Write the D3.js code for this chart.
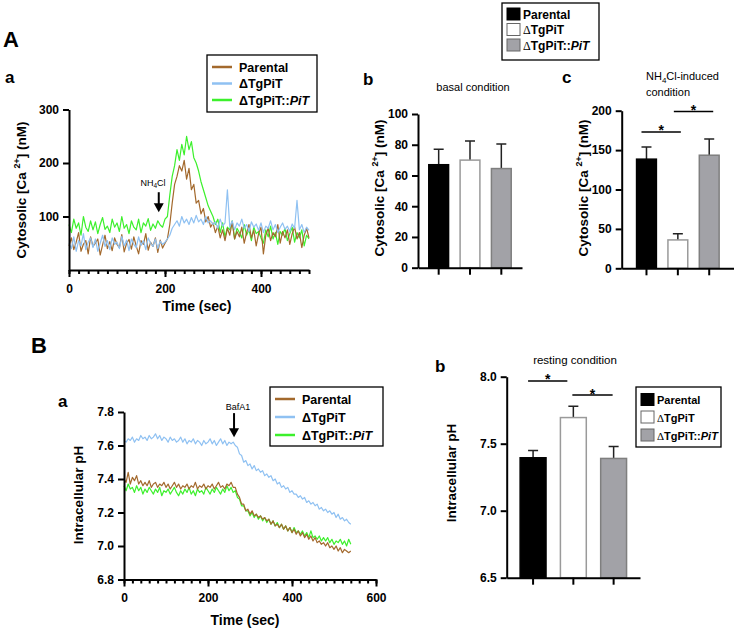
<!DOCTYPE html>
<html>
<head>
<meta charset="utf-8">
<script src="https://cdnjs.cloudflare.com/ajax/libs/d3/7.8.5/d3.min.js"></script>
<style>
body { margin: 0; background: #fff; }
svg { font-family: "Liberation Sans", Arial, sans-serif; }
.axis path, .axis line { stroke: #000; stroke-width: 2; }
.axis text { font-size: 12px; font-weight: bold; fill: #000; }
</style>
</head>
<body>
<div class="container"></div>
<script>
// ---- data ----
const groups = ["Parental", "ΔTgPiT", "ΔTgPiT::PiT"];

// A a: cytosolic Ca2+ traces, one sample every 5 s from 0 to 500 s
const caTime = d3.range(0, 501, 5);
const caParental = [
    45,60,38,52,70,35,48,55,30,62, 44,50,58,28,47,65,40,53,36,60,
    48,42,66,34,50,57,39,62,45,30, 55,48,68,37,52,44,60,33,56,41, 50,
    58,85,125,160,175,195,185,205,170,190, 150,160,125,130,105,115,90,100,80,88,
    70,82,60,75,55,78,65,90,58,72, 62,80,50,70,85,60,74,45,68,80,
    30,65,78,55,70,62,85,50,72,60, 75,48,68,80,58,70,42,65,78,60
];
const caKO = [
    50,40,62,35,55,45,68,38,52,60, 42,58,35,50,65,44,55,38,60,48,
    52,40,63,45,56,36,58,48,42,62, 46,55,38,60,50,44,58,40,54,48, 52,
    58,65,78,85,92,82,100,88,95,85, 98,88,102,90,95,85,100,88,92,85,
    90,78,95,82,88,150,80,92,75,88, 82,95,78,85,72,90,80,86,74,88,
    70,82,78,92,75,85,70,80,88,76, 82,72,86,78,130,75,85,70,80,74
];
const caComp = [
    85,70,95,78,88,65,100,80,72,92, 75,90,68,85,98,76,82,70,95,80,
    88,72,100,78,85,68,92,80,75,95, 70,88,82,96,74,86,78,92,84,80, 95,
    100,140,175,195,225,205,235,215,250,225, 240,210,200,185,165,150,135,120,110,100,
    85,95,70,88,62,80,75,92,58,78, 70,60,85,65,75,55,80,68,72,60,
    50,75,62,82,58,70,48,72,65,78, 55,68,80,52,70,60,75,45,65,58
];

// B a: intracellular pH traces, one sample every 5 s from 0 to 540 s
const phTime = d3.range(0, 541, 5);
const phParental = [
    7.40,7.38,7.44,7.37,7.41,7.39,7.42,7.37,7.39,7.36, 7.38,7.36,7.39,7.35,7.37,7.38,7.35,7.37,7.36,7.38,
    7.35,7.37,7.34,7.36,7.38,7.35,7.37,7.34,7.36,7.35, 7.37,7.34,7.36,7.35,7.38,7.34,7.36,7.35,7.37,7.34,
    7.36,7.35,7.37,7.34,7.36,7.38,7.35,7.36,7.34,7.37, 7.36,7.38,7.35,
    7.35,7.31,7.29,7.25,7.25,7.21,7.22,7.19,7.21,7.18, 7.19,7.17,7.18,7.16,7.17,7.15,7.16,7.13,7.15,7.12,
    7.13,7.11,7.13,7.10,7.12,7.09,7.11,7.08,7.10,7.07, 7.09,7.06,7.08,7.05,7.07,7.04,7.06,7.03,7.05,7.02,
    7.03,7.01,7.02,7.00,7.02,6.99,7.00,6.98,7.00,6.97, 6.99,6.96,6.98,6.97,6.96,6.97
];
const phKO = [
    7.63,7.62,7.64,7.63,7.65,7.62,7.64,7.63,7.66,7.64, 7.65,7.63,7.66,7.64,7.65,7.67,7.64,7.66,7.63,7.65,
    7.64,7.62,7.65,7.63,7.64,7.62,7.63,7.65,7.62,7.64, 7.61,7.63,7.62,7.64,7.61,7.63,7.62,7.60,7.63,7.61,
    7.62,7.64,7.61,7.63,7.60,7.62,7.64,7.61,7.63,7.60, 7.62,7.61,7.62,
    7.60,7.59,7.55,7.54,7.50,7.51,7.48,7.49,7.46,7.48, 7.45,7.46,7.44,7.45,7.42,7.43,7.41,7.42,7.39,7.40,
    7.37,7.38,7.35,7.36,7.34,7.35,7.32,7.33,7.31,7.31, 7.29,7.30,7.28,7.29,7.26,7.27,7.25,7.26,7.24,7.25,
    7.22,7.23,7.21,7.22,7.20,7.21,7.19,7.20,7.17,7.19, 7.16,7.17,7.15,7.16,7.14,7.13
];
const phComp = [
    7.36,7.33,7.37,7.34,7.35,7.32,7.36,7.33,7.35,7.31, 7.34,7.32,7.35,7.33,7.31,7.34,7.32,7.35,7.30,7.33,
    7.32,7.34,7.31,7.33,7.35,7.32,7.30,7.33,7.31,7.34, 7.32,7.35,7.31,7.33,7.30,7.34,7.32,7.33,7.31,7.35,
    7.33,7.31,7.34,7.32,7.35,7.33,7.31,7.34,7.32,7.36, 7.33,7.35,7.32,
    7.33,7.29,7.28,7.24,7.24,7.21,7.21,7.18,7.20,7.17, 7.19,7.16,7.18,7.15,7.17,7.14,7.16,7.13,7.15,7.12,
    7.14,7.11,7.13,7.10,7.12,7.09,7.11,7.08,7.11,7.08, 7.09,7.07,7.09,7.06,7.08,7.05,7.09,7.05,7.06,7.04,
    7.06,7.03,7.05,7.03,7.05,7.02,7.04,7.01,7.03,7.02, 7.04,7.01,7.03,7.00,7.04,7.01
];

// bar panels: mean and SD
const basalMean = [67, 70, 64.5],   basalSD = [10, 12.5, 16];
const nh4Mean   = [138.5, 36, 143.5], nh4SD = [15.5, 8, 20.5];
const restMean  = [7.395, 7.695, 7.39], restSD = [0.055, 0.085, 0.09];

// tick labels
const caTicks = [100, 200, 300], caTimeTicks = [0, 200, 400];
const basalTicks = [0, 20, 40, 60, 80, 100];
const nh4Ticks = [0, 50, 100, 150, 200];
const phTicks = [6.8, 7.0, 7.2, 7.4, 7.6, 7.8], phTimeTicks = [0, 200, 400, 600];
const restTicks = [6.5, 7.0, 7.5, 8.0];

const lineColors = ["#a3692d", "#8fc1f2", "#3cf02c"];
const barFill = ["#000", "#fff", "#a2a2a7"],
    barStroke = ["#000", "#9a9a9a", "#7f7f7f"];

const svg = d3.select('.container')
    .append('svg')
    .attr('width', 734)
    .attr('height', 630);

// ---- helpers ----
const txt = (x, y, s, size, weight, anchor) => svg.append('text')
    .attr('x', x).attr('y', y)
    .attr('font-size', size)
    .attr('font-weight', weight || 'normal')
    .attr('text-anchor', anchor || 'start')
    .text(s);

const styleAxis = g => g.attr('class', 'axis');

const groupLabel = (t, name, serifDelta) => {
    const parts = name.split('::');
    if (serifDelta && parts[0][0] === 'Δ') {
        t.append('tspan').attr('font-family', '"Liberation Serif", serif').attr('font-weight', 'normal').text('Δ');
        t.append('tspan').text(parts[0].slice(1));
    } else {
        t.append('tspan').text(parts[0]);
    }
    if (parts.length > 1) {
        t.append('tspan').text('::');
        t.append('tspan').attr('font-style', 'italic').text(parts[1]);
    }
};

const caLabel = (x, y) => {
    const t = svg.append('text')
        .attr('transform', `translate(${x},${y}) rotate(-90)`)
        .attr('text-anchor', 'middle')
        .attr('font-size', 13.5).attr('font-weight', 'bold');
    t.append('tspan').text('Cytosolic [Ca ');
    t.append('tspan').attr('font-size', 9).attr('dy', -6).text('2+');
    t.append('tspan').attr('dy', 6).text('] (nM)');
};

const vLabel = (x, y, s) => svg.append('text')
    .attr('transform', `translate(${x},${y}) rotate(-90)`)
    .attr('text-anchor', 'middle')
    .attr('font-size', 13.5).attr('font-weight', 'bold')
    .text(s);

const arrow = (x, yTip, len) => {
    svg.append('line').attr('x1', x).attr('x2', x).attr('y1', yTip - len).attr('y2', yTip - 7)
        .attr('stroke', '#000').attr('stroke-width', 2);
    svg.append('path').attr('d', `M${x - 5},${yTip - 9}L${x + 5},${yTip - 9}L${x},${yTip}Z`).attr('fill', '#000');
};

const linePanel = (o) => {
    const x = d3.scaleLinear().domain(o.xDomain).range(o.xRange),
        y = d3.scaleLinear().domain(o.yDomain).range(o.yRange);

    const line = d3.line().x((d, i) => x(o.time[i])).y(d => y(d));
    [2, 0, 1].forEach(k => {
        svg.append('path').datum(o.series[k])
            .attr('d', line)
            .attr('fill', 'none')
            .attr('stroke', lineColors[k])
            .attr('stroke-width', 1.2)
            .attr('stroke-linejoin', 'round');
    });

    svg.append('g').call(styleAxis)
        .attr('transform', `translate(${o.xRange[0]},0)`)
        .call(d3.axisLeft(y).tickValues(o.yTicks).tickFormat(o.yFormat).tickSize(6).tickSizeOuter(0))
        .call(g => g.selectAll('text').attr('dx', -1));

    svg.append('g').call(styleAxis)
        .attr('transform', `translate(0,${o.yRange[0]})`)
        .call(d3.axisBottom(x).tickValues(d3.range(o.xDomain[0], o.xDomain[1] + 1, 20)).tickFormat('').tickSize(4).tickSizeOuter(0))
        .call(g => g.selectAll('line').attr('stroke-width', 1.5));
    svg.append('g').call(styleAxis)
        .attr('transform', `translate(0,${o.yRange[0]})`)
        .call(d3.axisBottom(x).tickValues(o.xTicks).tickSize(7).tickSizeOuter(0))
        .call(g => g.select('.domain').remove())
        .call(g => g.selectAll('text').attr('dy', '1.05em'));

    return {x, y};
};

const lineLegend = (bx, by, bw, bh, rows) => {
    svg.append('rect').attr('x', bx).attr('y', by).attr('width', bw).attr('height', bh)
        .attr('fill', '#fff').attr('stroke', '#000').attr('stroke-width', 1.3);
    groups.forEach((name, i) => {
        svg.append('line').attr('x1', bx + 5).attr('x2', bx + 25).attr('y1', rows[i]).attr('y2', rows[i])
            .attr('stroke', lineColors[i]).attr('stroke-width', 2.5);
        const t = svg.append('text').attr('x', bx + 32).attr('y', rows[i] + 4.5)
            .attr('font-size', 12.5).attr('font-weight', 'bold');
        groupLabel(t, name, false);
    });
};

const swatchLegend = (bx, by, bw, bh, rows, size) => {
    svg.append('rect').attr('x', bx).attr('y', by).attr('width', bw).attr('height', bh)
        .attr('fill', '#fff').attr('stroke', '#000').attr('stroke-width', 1.3);
    groups.forEach((name, i) => {
        svg.append('rect').attr('x', bx + 5).attr('y', rows[i] - 6).attr('width', 13).attr('height', 12)
            .attr('fill', barFill[i]).attr('stroke', i === 0 ? '#000' : '#666').attr('stroke-width', 1);
        const t = svg.append('text').attr('x', bx + 21).attr('y', rows[i] + 4.5)
            .attr('font-size', size).attr('font-weight', 'bold');
        groupLabel(t, name, true);
    });
};

const barPanel = (o) => {
    const x = d3.scaleBand().domain(groups).range(o.xRange)
            .paddingInner(0.32).paddingOuter(o.outer),
        y = d3.scaleLinear().domain(o.yDomain).range(o.yRange);

    const bars = svg.append('g');
    bars.selectAll('.err')
        .data(o.mean)
        .enter()
        .append('path')
        .attr('class', 'err')
        .attr('d', (d, i) => {
            const cx = x(groups[i]) + x.bandwidth() / 2, top = y(d + o.sd[i]);
            return `M${cx},${y(d)}V${top}M${cx - 5},${top}H${cx + 5}`;
        })
        .attr('fill', 'none').attr('stroke', '#222').attr('stroke-width', 1.5);
    bars.selectAll('.bar')
        .data(o.mean)
        .enter()
        .append('rect')
        .attr('class', 'bar')
        .attr('x', (d, i) => x(groups[i]) + 0.75)
        .attr('width', x.bandwidth() - 1.5)
        .attr('y', d => y(d))
        .attr('height', d => y(o.yDomain[0]) - y(d))
        .attr('fill', (d, i) => barFill[i])
        .attr('stroke', (d, i) => barStroke[i])
        .attr('stroke-width', 1.5);

    svg.append('g').call(styleAxis)
        .attr('transform', `translate(${o.xRange[0]},0)`)
        .call(d3.axisLeft(y).tickValues(o.yTicks).tickFormat(o.yFormat).tickSize(6).tickSizeOuter(0))
        .call(g => g.selectAll('text').attr('dx', -1));
    svg.append('g').call(styleAxis)
        .attr('transform', `translate(0,${o.yRange[0]})`)
        .call(d3.axisBottom(x).tickSize(7).tickSizeOuter(0).tickFormat(''));

    (o.sig || []).forEach(s => {
        const x1 = x(groups[s.from]) + x.bandwidth() / 2 + s.d0,
            x2 = x(groups[s.to]) + x.bandwidth() / 2 + s.d1,
            yy = y(s.at);
        svg.append('line').attr('x1', x1).attr('x2', x2).attr('y1', yy).attr('y2', yy)
            .attr('stroke', '#000').attr('stroke-width', 1.5);
        txt((x1 + x2) / 2, yy + 3.5, '*', 14, 'bold', 'middle');
    });
};

// ---- panel A ----
txt(3, 47, 'A', 22, 'bold');
txt(5, 83, 'a', 17, 'bold');

const aa = linePanel({
    time: caTime, series: [caParental, caKO, caComp],
    xDomain: [0, 500], xRange: [69, 309],
    yDomain: [0, 300], yRange: [270, 109.5],
    yTicks: caTicks, xTicks: caTimeTicks, yFormat: d3.format('d')
});
caLabel(26, 190);
txt(197, 311, 'Time (sec)', 14, 'bold', 'middle');
arrow(aa.x(187), aa.y(108), 20);
const nh = txt(153, 186, 'NH', 9, 'normal', 'middle');
nh.append('tspan').attr('font-size', 6.5).attr('dy', 2).text('4');
nh.append('tspan').attr('dy', -2).text('Cl');
lineLegend(207, 55, 110, 57, [67, 83.5, 100]);

swatchLegend(502, 3, 97, 57, [14, 29.5, 45], 12);

txt(363, 85, 'b', 17, 'bold');
txt(473, 91, 'basal condition', 11, 'normal', 'middle');
barPanel({
    mean: basalMean, sd: basalSD,
    xRange: [418, 522], outer: 0.32,
    yDomain: [0, 100], yRange: [267.7, 114],
    yTicks: basalTicks, yFormat: d3.format('d')
});
caLabel(384, 188);

txt(562, 83, 'c', 17, 'bold');
const nc = txt(646, 80, 'NH', 11, 'normal');
nc.append('tspan').attr('font-size', 8).attr('dy', 2.5).text('4');
nc.append('tspan').attr('dy', -2.5).text('Cl-induced');
txt(646, 96, 'condition', 11, 'normal');
barPanel({
    mean: nh4Mean, sd: nh4SD,
    xRange: [621.7, 734], outer: 0.45,
    yDomain: [0, 200], yRange: [268.3, 110.7],
    yTicks: nh4Ticks, yFormat: d3.format('d'),
    sig: [{from: 0, to: 1, at: 173, d0: -5, d1: 3}, {from: 1, to: 2, at: 199, d0: -4, d1: 4}]
});
caLabel(588, 188);

// ---- panel B ----
txt(31, 353, 'B', 22, 'bold');
txt(58, 407, 'a', 17, 'bold');

const ba = linePanel({
    time: phTime, series: [phParental, phKO, phComp],
    xDomain: [0, 600], xRange: [124, 376],
    yDomain: [6.8, 7.8], yRange: [579.5, 412],
    yTicks: phTicks, xTicks: phTimeTicks, yFormat: d3.format('.1f')
});
vLabel(83, 495, 'Intracellular pH');
txt(245, 625, 'Time (sec)', 14, 'bold', 'middle');
arrow(ba.x(262), ba.y(7.65), 24);
txt(238, 410, 'BafA1', 9, 'normal', 'middle');
lineLegend(270, 387, 113, 59, [399, 417, 435]);

txt(435, 372, 'b', 17, 'bold');
txt(575, 364, 'resting condition', 11.5, 'normal', 'middle');
barPanel({
    mean: restMean, sd: restSD,
    xRange: [506.7, 640], outer: 0.315,
    yDomain: [6.5, 8.0], yRange: [577.7, 376.7],
    yTicks: restTicks, yFormat: d3.format('.1f'),
    sig: [{from: 0, to: 1, at: 7.968, d0: -5, d1: -6}, {from: 1, to: 2, at: 7.863, d0: -1, d1: -1}]
});
vLabel(456, 473, 'Intracellular pH');
swatchLegend(636, 387, 85, 60, [399.5, 417, 435], 11);
</script>
</body>
</html>
